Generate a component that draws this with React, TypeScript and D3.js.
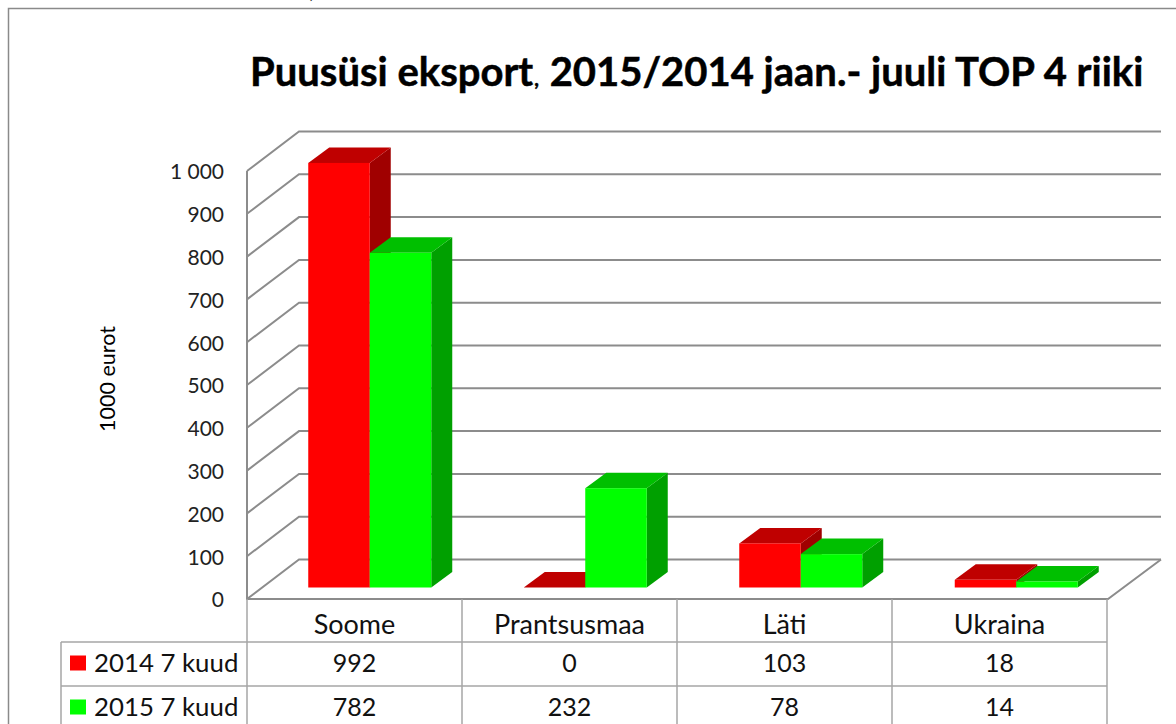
import React, { useEffect, useRef } from "react";
import * as d3 from "d3";

const categories = ["Soome", "Prantsusmaa", "Läti", "Ukraina"];
const seriesNames = ["2014 7 kuud", "2015 7 kuud"];
const values2014 = [992, 0, 103, 18];
const values2015 = [782, 232, 78, 14];
const titleParts = ["Puusüsi eksport", ",", " 2015/2014 jaan.- juuli TOP 4 riiki"];

const WIDTH = 1176;
const HEIGHT = 724;
const FONT = "Lato, 'Open Sans', sans-serif";

// chart wall geometry
const left = 247;
const right = 1108;
const floorY = 599;
const topY = 171;
const wallDx = 52;
const wallDy = -39.5;
// bar depth and how far the bars sit back from the floor edge
const barDx = 21;
const barDy = -15.5;
const barInsetX = 15;
const barInsetY = -11.5;
const barWidth = 61.5;

const colors = [
  { front: "#ff0000", top: "#bf0000", side: "#a00000" },
  { front: "#00ff00", top: "#00bf00", side: "#00a000" },
];

const GRID = "#8c8c8c";
const TABLE = "#a6a6a6";

function App() {
  const ref = useRef<SVGSVGElement>(null);

  useEffect(() => {
    const svg = d3.select(ref.current);
    svg.selectAll("*").remove();

    const y = d3.scaleLinear().domain([0, 1000]).range([floorY, topY]);
    // the bars spread a touch wider than the table columns below them
    const xBars = d3.scaleBand().domain(categories).range([left, right + 1]);
    const x = d3.scaleBand().domain(categories).range([left, right - 1]);
    const tickFormat = d3
      .formatLocale({ decimal: ",", thousands: " ", grouping: [3], currency: ["", ""] })
      .format(",");
    const ticks = y.ticks(10);

    // outer frame, runs off the right and the bottom of the picture
    svg.append("rect")
      .attr("x", 8.5).attr("y", 8.5)
      .attr("width", WIDTH + 50).attr("height", HEIGHT + 50)
      .attr("fill", "#fff").attr("stroke", "#8a8a8a").attr("stroke-width", 1.5);

    // leftover comma cut by the top edge
    svg.append("text")
      .attr("x", 309).attr("y", -2)
      .attr("font-family", FONT).attr("font-size", 24).attr("fill", "#222")
      .text(",");

    // title
    const title = svg.append("text")
      .attr("x", 250).attr("y", 86)
      .attr("font-family", FONT).attr("font-size", 40).attr("font-weight", 700)
      .attr("fill", "#000").attr("stroke", "#000").attr("stroke-width", 0.5)
      .attr("xml:space", "preserve");
    title.append("tspan").text(titleParts[0]);
    title.append("tspan").attr("font-size", 20).attr("dx", 1).text(titleParts[1]);
    title.append("tspan").attr("dx", 1).text(titleParts[2]);

    // gridlines on the side wall and the back wall
    const grid = svg.append("g").attr("fill", "none").attr("stroke", GRID).attr("stroke-width", 2);
    grid.selectAll(".wall")
      .data(ticks)
      .join("path")
      .attr("class", "wall")
      .attr("d", (d) => {
        const p = d3.path();
        p.moveTo(left, y(d));
        p.lineTo(left + wallDx, y(d) + wallDy);
        p.lineTo(right + wallDx + 1, y(d) + wallDy);
        return p.toString();
      });
    const edges = d3.path();
    edges.moveTo(left, y(1000));
    edges.lineTo(left, floorY);
    edges.lineTo(right, floorY);
    edges.lineTo(right + wallDx + 1, floorY + wallDy);
    grid.append("path").attr("d", edges.toString());

    // 3d bars, 2014 first so the 2015 block covers its side
    [values2014, values2015].forEach((values, s) => {
      const c = colors[s];
      const bars = svg.append("g").selectAll("g")
        .data(values)
        .join("g")
        .attr("transform", (_, i) => {
          const center = (xBars(categories[i]) as number) + xBars.bandwidth() / 2 + barInsetX;
          return `translate(${center - barWidth + s * barWidth},${barInsetY})`;
        });
      bars.append("path")
        .attr("fill", c.side)
        .attr("d", (d) =>
          `M${barWidth},${y(d)}l${barDx},${barDy}V${floorY + barDy}L${barWidth},${floorY}Z`);
      bars.append("path")
        .attr("fill", c.top)
        .attr("d", (d) =>
          `M0,${y(d)}l${barDx},${barDy}h${barWidth}l${-barDx},${-barDy}Z`);
      bars.append("rect")
        .attr("fill", c.front)
        .attr("x", 0)
        .attr("y", (d) => y(d))
        .attr("width", barWidth)
        .attr("height", (d) => floorY - y(d));
    });

    // value axis
    const axis = svg.append("g")
      .attr("transform", "translate(224,0)")
      .call(d3.axisLeft(y).tickValues(ticks).tickSize(0).tickPadding(0).tickFormat((d) => tickFormat(d as number)));
    axis.select(".domain").remove();
    axis.selectAll("text")
      .attr("font-family", FONT).attr("font-size", 21).attr("fill", "#222")
      .attr("dy", "0.38em");

    svg.append("text")
      .attr("transform", "translate(115,379) rotate(-90)")
      .attr("text-anchor", "middle")
      .attr("font-family", FONT).attr("font-size", 21.5).attr("fill", "#000")
      .text("1000 eurot");

    // data table
    const rowY = [642, 686, 730];
    const table = svg.append("g").attr("stroke", TABLE).attr("stroke-width", 1.5);
    const columns = [...categories.map((c) => x(c) as number), right - 1];
    table.selectAll(".col")
      .data(columns)
      .join("line")
      .attr("class", "col")
      .attr("x1", (d) => d).attr("x2", (d) => d)
      .attr("y1", floorY).attr("y2", HEIGHT);
    table.append("line")
      .attr("x1", 61).attr("x2", 61).attr("y1", rowY[0]).attr("y2", HEIGHT);
    table.selectAll(".row")
      .data(rowY.slice(0, 2))
      .join("line")
      .attr("class", "row")
      .attr("x1", 61).attr("x2", right - 1)
      .attr("y1", (d) => d).attr("y2", (d) => d);

    const cellText = (sel: any, size: number) =>
      sel.attr("font-family", FONT).attr("font-size", size).attr("fill", "#111")
        .attr("text-anchor", "middle").attr("dy", "0.35em");

    svg.append("g").selectAll("text")
      .data(categories)
      .join("text")
      .attr("x", (d) => (x(d) as number) + x.bandwidth() / 2)
      .attr("y", 625)
      .call(cellText, 27)
      .text((d) => d);

    [values2014, values2015].forEach((values, s) => {
      const cy = (rowY[s] + rowY[s + 1]) / 2 - 1;
      svg.append("g").selectAll("text")
        .data(values)
        .join("text")
        .attr("x", (_, i) => (x(categories[i]) as number) + x.bandwidth() / 2)
        .attr("y", cy)
        .call(cellText, 25)
        .text((d) => d);
      svg.append("rect")
        .attr("x", 70).attr("y", cy - 7.5)
        .attr("width", 16).attr("height", 15)
        .attr("fill", colors[s].front);
      svg.append("text")
        .attr("x", 94).attr("y", cy)
        .call(cellText, 25.8)
        .attr("text-anchor", "start")
        .text(seriesNames[s]);
    });
  }, []);

  return (
    <svg
      ref={ref}
      width={WIDTH}
      height={HEIGHT}
      style={{ position: "absolute", left: 0, top: 0, background: "#fff" }}
    />
  );
}

export default App;
